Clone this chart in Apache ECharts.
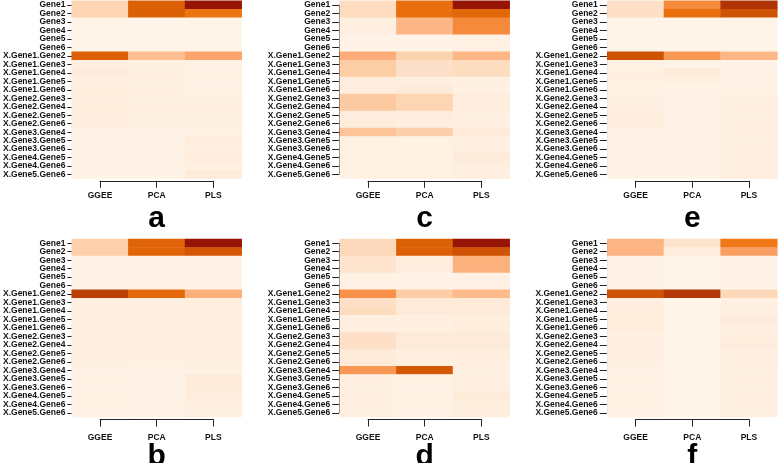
<!DOCTYPE html>
<html><head><meta charset="utf-8">
<script src="https://cdn.jsdelivr.net/npm/echarts@6/dist/echarts.min.js"></script>
<style>html,body{margin:0;padding:0;background:#fff}#c{width:778px;height:463px}</style>
</head><body><div id="c"></div>
<script>
const rowLabels = ['Gene1','Gene2','Gene3','Gene4','Gene5','Gene6',
  'X.Gene1.Gene2','X.Gene1.Gene3','X.Gene1.Gene4','X.Gene1.Gene5','X.Gene1.Gene6',
  'X.Gene2.Gene3','X.Gene2.Gene4','X.Gene2.Gene5','X.Gene2.Gene6',
  'X.Gene3.Gene4','X.Gene3.Gene5','X.Gene3.Gene6','X.Gene4.Gene5','X.Gene4.Gene6','X.Gene5.Gene6'];
const colLabels = ['GGEE','PCA','PLS'];
const panelLetters = ['a','c','e','b','d','f'];

// panel a
const aGGEE = [.25,.25,.02,.02,.02,.02,.80,.06,.08,.06,.07,.07,.07,.07,.07,.03,.03,.03,.03,.03,.03];
const aPCA  = [.80,.80,.02,.02,.02,.02,.38,.05,.05,.05,.05,.05,.05,.05,.05,.03,.03,.03,.03,.03,.03];
const aPLS  = [1.0,.70,.02,.02,.02,.02,.50,.04,.04,.04,.04,.05,.05,.05,.05,.04,.08,.05,.08,.05,.09];
// panel c
const cGGEE = [.20,.20,.06,.06,.03,.03,.46,.30,.30,.08,.08,.32,.32,.08,.08,.35,.04,.04,.04,.04,.04];
const cPCA  = [.73,.73,.42,.42,.03,.03,.27,.17,.17,.06,.10,.25,.25,.08,.06,.28,.04,.04,.04,.04,.04];
const cPLS  = [1.0,.76,.60,.60,.04,.04,.42,.20,.20,.05,.05,.08,.08,.06,.05,.10,.06,.06,.10,.06,.06];
// panel e
const eGGEE = [.17,.17,.02,.02,.02,.02,.84,.04,.05,.05,.04,.05,.05,.07,.07,.03,.03,.03,.03,.03,.03];
const ePCA  = [.60,.72,.02,.02,.02,.02,.55,.03,.10,.05,.03,.03,.03,.03,.03,.03,.03,.03,.03,.03,.03];
const ePLS  = [.93,.84,.02,.02,.02,.02,.42,.03,.03,.04,.04,.06,.06,.06,.06,.06,.06,.06,.06,.06,.06];
// panel b
const bGGEE = [.28,.28,.03,.03,.03,.03,.90,.06,.06,.06,.06,.06,.06,.06,.06,.04,.04,.04,.04,.04,.04];
const bPCA  = [.78,.78,.03,.03,.03,.03,.76,.05,.05,.05,.05,.05,.05,.05,.05,.03,.03,.03,.03,.03,.03];
const bPLS  = [1.0,.83,.03,.03,.03,.03,.45,.06,.06,.06,.06,.06,.06,.06,.06,.04,.09,.09,.08,.05,.05];
// panel d
const dGGEE = [.22,.22,.14,.14,.04,.04,.57,.17,.20,.06,.06,.17,.17,.10,.10,.55,.05,.05,.05,.05,.05];
const dPCA  = [.80,.80,.08,.08,.03,.03,.30,.10,.10,.05,.05,.10,.10,.06,.06,.82,.04,.04,.04,.04,.04];
const dPLS  = [1.0,.84,.45,.45,.04,.04,.40,.10,.10,.07,.07,.10,.10,.07,.06,.06,.06,.06,.09,.07,.07];
// panel f
const fGGEE = [.43,.43,.03,.03,.03,.03,.84,.06,.07,.07,.08,.05,.05,.05,.05,.04,.04,.04,.04,.04,.04];
const fPCA  = [.15,.08,.02,.02,.02,.02,.92,.02,.02,.02,.02,.02,.02,.02,.02,.02,.02,.02,.02,.02,.02];
const fPLS  = [.68,.52,.03,.03,.03,.03,.22,.05,.06,.08,.06,.07,.08,.06,.06,.06,.05,.05,.05,.05,.05];

const panelData = [[aGGEE,aPCA,aPLS],[cGGEE,cPCA,cPLS],[eGGEE,ePCA,ePLS],
                   [bGGEE,bPCA,bPLS],[dGGEE,dPCA,dPLS],[fGGEE,fPCA,fPLS]];

const palette = ['#FFF6EC','#FEEAD8','#FDDCC0','#FDCDA6','#FDBB8C','#FBA46C','#F68A3C','#EE7410','#DC6005','#BA4005','#961405'];

const FONT = 'Liberation Sans, Arial, Helvetica, sans-serif';
const lefts = [71.7, 339.7, 607.3];
const tops = [0.8, 239];
const W = 170, H = 178;
const rowH = H / rowLabels.length, colW = W / colLabels.length;

const grid = [], xAxis = [], yAxis = [], series = [], graphic = [];
panelData.forEach((cols, p) => {
  const r = Math.floor(p / 3), c = p % 3;
  const L = lefts[c], T = tops[r];
  const g0 = grid.length;
  grid.push({left: L, top: T, width: W, height: H});
  xAxis.push({type: 'category', gridIndex: g0, data: colLabels, show: false});
  yAxis.push({type: 'category', gridIndex: g0, data: rowLabels, inverse: true, show: false});
  grid.push({left: L - 0.5, top: T + rowH / 2, width: W, height: H - rowH});
  xAxis.push({type: 'value', gridIndex: g0 + 1, show: false});
  yAxis.push({type: 'category', gridIndex: g0 + 1, data: rowLabels, inverse: true, boundaryGap: false,
    axisLine: {show: true, lineStyle: {color: '#222', width: 1}},
    axisTick: {show: true, length: 7, lineStyle: {color: '#222'}},
    axisLabel: {interval: 0, margin: 9, fontSize: 8.5, fontWeight: 'bold', color: '#111', fontFamily: FONT},
    splitLine: {show: false}});
  grid.push({left: L + colW / 2, top: T, width: W - colW, height: H + (r === 0 ? 2 : 2.5)});
  xAxis.push({type: 'category', gridIndex: g0 + 2, data: colLabels, boundaryGap: false, position: 'bottom',
    axisLine: {show: true, lineStyle: {color: '#222', width: 1}},
    axisTick: {show: true, length: 7, lineStyle: {color: '#222'}},
    axisLabel: {interval: 0, margin: r === 0 ? 10 : 14, fontSize: 8.5, fontWeight: 'bold', color: '#111', fontFamily: FONT},
    splitLine: {show: false}});
  yAxis.push({type: 'value', gridIndex: g0 + 2, show: false});

  const data = [];
  cols.forEach((arr, ci) => arr.forEach((v, ri) => data.push([ci, ri, v])));
  series.push({type: 'heatmap', xAxisIndex: g0, yAxisIndex: g0, data: data,
    itemStyle: {borderWidth: 0}, emphasis: {disabled: true}, progressive: 0});

  graphic.push({type: 'text', x: L + W / 2, y: r === 0 ? 219 : 457,
    style: {text: panelLetters[p], font: 'bold 30px ' + FONT, fill: '#000', textAlign: 'center', textVerticalAlign: 'middle'}});
});

const chart = echarts.init(document.getElementById('c'), null, {renderer: 'canvas'});
chart.setOption({
  animation: false,
  backgroundColor: '#fff',
  grid, xAxis, yAxis, series, graphic,
  visualMap: {show: false, type: 'continuous', min: 0, max: 1, seriesIndex: series.map((s, i) => i),
    inRange: {color: palette}}
});
</script></body></html>
